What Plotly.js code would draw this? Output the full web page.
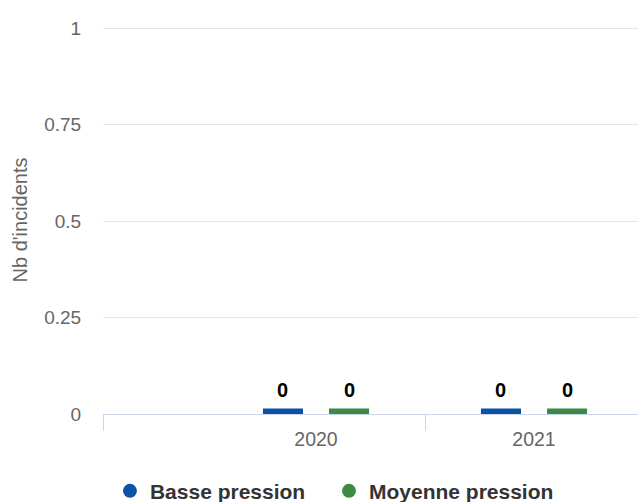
<!DOCTYPE html>
<html>
<head>
<meta charset="utf-8">
<script src="https://cdn.plot.ly/plotly-3.0.1.min.js"></script>
<style>html,body{margin:0;padding:0;background:#fff;}#chart{width:638px;height:502px;}</style>
</head>
<body>
<div id="chart"></div>
<script>
// ---- data ----
const categories = ['2020', '2021'];
const seriesNames = ['Basse pression', 'Moyenne pression'];
const basseValues = [0, 0];
const moyenneValues = [0, 0];
const yTickValues = [0, 0.25, 0.5, 0.75, 1];
const yTickLabels = ['0', '0.25', '0.5', '0.75', '1'];

// ---- styling ----
const colors = ['#0c53a5', '#3d8a45'];
const FONT = '"Liberation Sans", Arial, Helvetica, sans-serif';
const MIN_POINT_LENGTH = 0.0145; // like Highcharts minPointLength, zero bars still visible
const BARGAP = 0.394, BARGROUPGAP = 0.394;
const X_RANGE = [-0.977, 1.477];
const Y_RANGE = [0, 1.006];
const LEGEND_X = [0.013, 0.4224];

const seriesValues = [basseValues, moyenneValues];
const idx = categories.map((c, i) => i);
const nTr = seriesValues.length;
const slot = (1 - BARGAP) / nTr;

const traces = [];
const annotations = [];
seriesValues.forEach((vals, k) => {
  const heights = vals.map(v => Math.max(v, MIN_POINT_LENGTH));
  traces.push({
    type: 'bar', name: seriesNames[k], x: idx, y: heights,
    marker: {color: colors[k]}, showlegend: false, hoverinfo: 'skip'
  });
  const off = -(1 - BARGAP) / 2 + slot * (k + 0.5);
  vals.forEach((v, i) => {
    annotations.push({
      x: idx[i] + off, y: heights[i], xref: 'x', yref: 'y',
      text: String(v), showarrow: false, yanchor: 'bottom', yshift: 5,
      font: {family: FONT, size: 20, color: '#000', weight: 'bold'}
    });
  });
});
// legend entries with round symbols (one legend per entry for exact spacing)
const legendStyle = (x) => ({
  orientation: 'h', x: x, xanchor: 'left', y: -0.199, yanchor: 'middle',
  font: {family: FONT, size: 21, color: '#333', weight: 'bold'},
  bgcolor: 'rgba(0,0,0,0)'
});
seriesValues.forEach((vals, k) => {
  traces.push({
    type: 'scatter', mode: 'markers', name: seriesNames[k], x: [null], y: [null],
    legend: k === 0 ? 'legend' : 'legend' + (k + 1),
    marker: {color: colors[k], size: 14, symbol: 'circle'}, hoverinfo: 'skip'
  });
});
// helper trace for boundary-tick axis
traces.push({type: 'scatter', mode: 'markers', x: [null], y: [null], xaxis: 'x2', showlegend: false, hoverinfo: 'skip'});

const boundaries = [X_RANGE[0] + 0.001].concat(idx.slice(0, -1).map(i => i + 0.5));

const layout = {
  width: 638, height: 502,
  margin: {l: 103, r: 0, t: 26, b: 88, autoexpand: false},
  paper_bgcolor: '#fff', plot_bgcolor: '#fff',
  font: {family: FONT, color: '#666'},
  barmode: 'group', bargap: BARGAP, bargroupgap: BARGROUPGAP,
  showlegend: true,
  xaxis: {
    range: X_RANGE, tickvals: idx, ticktext: categories,
    ticks: 'outside', ticklen: 8, tickcolor: 'rgba(0,0,0,0)',
    showline: true, linecolor: '#ccd6eb', linewidth: 1,
    showgrid: false, zeroline: false, layer: 'below traces',
    tickfont: {family: FONT, size: 19.5, color: '#666'}, fixedrange: true
  },
  xaxis2: {
    overlaying: 'x', anchor: 'y', side: 'bottom', range: X_RANGE,
    tickvals: boundaries, ticktext: boundaries.map(() => ''),
    ticks: 'outside', ticklen: 16, tickcolor: '#ccd6eb', tickwidth: 1,
    showgrid: false, zeroline: false, showline: false, fixedrange: true
  },
  yaxis: {
    range: Y_RANGE, tickvals: yTickValues, ticktext: yTickLabels,
    ticks: 'outside', ticklen: 17, tickcolor: 'rgba(0,0,0,0)',
    gridcolor: '#e6e6e6', gridwidth: 1, zeroline: false, showline: false,
    tickfont: {family: FONT, size: 19, color: '#666'},
    title: {text: "Nb d'incidents", font: {family: FONT, size: 20, color: '#666'}, standoff: 11},
    fixedrange: true
  },
  legend: legendStyle(LEGEND_X[0]),
  legend2: legendStyle(LEGEND_X[1]),
  annotations: annotations
};

Plotly.newPlot('chart', traces, layout, {displayModeBar: false, staticPlot: true});
</script>
</body>
</html>
